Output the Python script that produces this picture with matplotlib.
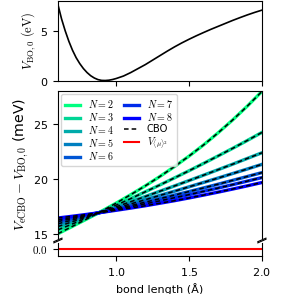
import numpy as np
import matplotlib
matplotlib.use("Agg")
import matplotlib.pyplot as plt

plt.rcParams['mathtext.fontset'] = 'cm'
plt.rcParams['axes.formatter.use_mathtext'] = True
plt.rcParams['font.size'] = 8

# --- data ---------------------------------------------------------------
bo_x = [0.60, 0.625, 0.65, 0.675, 0.70, 0.725, 0.75, 0.775, 0.80, 0.825, 0.85,
        0.875, 0.90, 0.925, 0.95, 0.975, 1.00, 1.05, 1.10, 1.15, 1.20, 1.25,
        1.30, 1.35, 1.40, 1.45, 1.50, 1.55, 1.60, 1.65, 1.70, 1.75, 1.80,
        1.85, 1.90, 1.95, 2.00]
bo_v = [7.65, 6.2, 5.0, 3.95, 3.05, 2.3, 1.7, 1.2, 0.8, 0.48, 0.25,
        0.09, 0.01, 0.0, 0.03, 0.1, 0.2, 0.45, 0.8, 1.2, 1.6, 2.05,
        2.5, 2.95, 3.38, 3.78, 4.15, 4.5, 4.83, 5.15, 5.45, 5.75, 6.05,
        6.33, 6.6, 6.85, 7.08]

bond = [0.6, 0.7, 0.8, 0.9, 1.0, 1.1, 1.2, 1.3, 1.4, 1.5, 1.6, 1.7, 1.8, 1.9, 2.0]
N_labels = [2, 3, 4, 5, 6, 7, 8]
ecbo = {
    2: [15.05, 15.72, 16.40, 17.10, 17.83, 18.60, 19.40, 20.25, 21.15, 22.10,
        23.12, 24.22, 25.39, 26.64, 27.97],
    3: [15.40, 15.94, 16.50, 17.06, 17.65, 18.24, 18.86, 19.48, 20.12, 20.77,
        21.44, 22.12, 22.81, 23.52, 24.25],
    4: [15.70, 16.14, 16.59, 17.04, 17.50, 17.96, 18.43, 18.91, 19.39, 19.88,
        20.37, 20.87, 21.37, 21.89, 22.40],
    5: [15.95, 16.30, 16.66, 17.02, 17.39, 17.76, 18.14, 18.53, 18.91, 19.31,
        19.71, 20.11, 20.52, 20.93, 21.35],
    6: [16.15, 16.43, 16.72, 17.01, 17.31, 17.61, 17.92, 18.24, 18.56, 18.88,
        19.21, 19.55, 19.90, 20.25, 20.60],
    7: [16.30, 16.53, 16.76, 17.00, 17.25, 17.50, 17.77, 18.04, 18.32, 18.60,
        18.90, 19.20, 19.51, 19.83, 20.15],
    8: [16.48, 16.64, 16.81, 16.99, 17.18, 17.38, 17.59, 17.82, 18.05, 18.30,
        18.56, 18.83, 19.11, 19.40, 19.70],
}
cbo = ecbo  # CBO curves coincide with eCBO curves
mu2 = [0.0] * len(bond)

# --- figure -------------------------------------------------------------
fig = plt.figure(figsize=(2.91, 2.94), dpi=100)
L, R = 0.199, 0.900
ax1 = fig.add_axes([L, 0.7245, R - L, 0.9966 - 0.7245])
ax2 = fig.add_axes([L, 0.190, R - L, 0.690 - 0.190], sharex=ax1)
ax3 = fig.add_axes([L, 0.1293, R - L, 0.1735 - 0.1293], sharex=ax1)

ax1.plot(bo_x, bo_v, color='black', lw=1.2)
ax1.set_ylim(-0.05, 8.0)
ax1.set_yticks([0, 5])
ax1.set_ylabel(r'$V_{\mathrm{BO},0}\ (\mathrm{eV})$', fontsize=9, labelpad=1)
ax1.tick_params(labelbottom=False)

cmap = plt.get_cmap('winter_r')
cols = cmap(np.linspace(0, 1, len(N_labels)))
handles = []
for c, n in zip(cols, N_labels):
    h, = ax2.plot(bond, ecbo[n], color=c, lw=2.4, label=rf'$N = {n}$')
    handles.append(h)
for i, n in enumerate(N_labels):
    h, = ax2.plot(bond, cbo[n], color='black', lw=1.1, ls=(0, (3, 2)),
                  label='CBO' if i == 0 else None)
    if i == 0:
        hcbo = h
handles.append(hcbo)
hmu, = ax3.plot(bond, mu2, color='red', lw=1.5, label=r'$V_{\langle\mu\rangle^2}$')
handles.append(hmu)

ax2.set_ylim(14.65, 28.0)
ax2.set_yticks([15, 20, 25])
ax2.spines['bottom'].set_visible(False)
ax2.tick_params(bottom=False, labelbottom=False)
ax2.set_ylabel(r'$V_{\mathrm{eCBO}} - V_{\mathrm{BO},0}$ (meV)', fontsize=10.2, labelpad=1)

ax3.set_ylim(-0.1, 0.1)
ax3.set_yticks([0], labels=[r'$0.0$'])
ax3.spines['top'].set_visible(False)
ax3.set_xlim(0.6, 2.0)
ax3.set_xticks([1.0, 1.5, 2.0])
ax3.set_xlabel('bond length (Å)')

ax2.legend(handles=handles, loc='upper left', ncol=2, fontsize=7.2,
           handlelength=1.5, handletextpad=0.8, columnspacing=1.0,
           labelspacing=0.1, borderpad=0.4, borderaxespad=0.3)

# break marks
d = 0.02
kw = dict(color='k', clip_on=False, lw=0.8)
for xx in (0, 1):
    ax2.plot((xx - d, xx + d), (-0.012 - 0.012, -0.012 + 0.012), transform=ax2.transAxes, **kw)
    ax3.plot((xx - d, xx + d), (1.15 - 0.14, 1.15 + 0.14), transform=ax3.transAxes, **kw)

fig.savefig('out.png', dpi=100)
